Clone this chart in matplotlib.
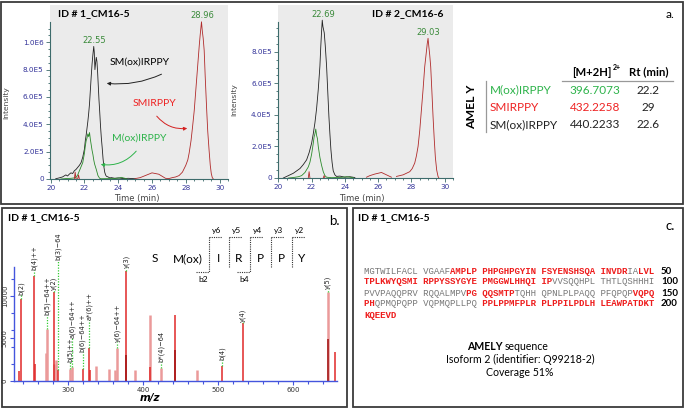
import numpy as np
import matplotlib.pyplot as plt
from matplotlib.patches import Rectangle
from matplotlib.ticker import FuncFormatter

W, H = 685, 409
nan = np.nan

# ---- a. extracted ion chromatograms: time (min), intensity (x1e5) ----
C1_BLACK_T = [20.3, 20.5, 20.7, 20.9, 21.0, 21.1, 21.2, 21.3, 21.4, 21.5, 21.6, 21.7, 21.8, 21.9,
              22.0, 22.05, 22.1, 22.15, 22.2, 22.25, 22.3, 22.35, 22.4, 22.45, 22.5, 22.55, 22.58,
              22.62, 22.66, 22.7, 22.74, 22.78, 22.82, 22.86, 22.9, 22.95, 23.0, 23.05, 23.1, 23.15,
              23.2, 23.25, 23.3, 23.4, 23.5, 23.6, 23.8, 24.0, 24.3, 24.6, 25.0]
C1_BLACK_I = [0.02, 0.08, 0.15, 0.3, 0.22, 0.35, 0.45, 0.4, 0.6, 0.7, 0.85, 1.0, 1.2, 1.6,
              2.2, 2.8, 3.2, 3.7, 4.2, 4.8, 5.5, 6.5, 7.5, 8.4, 9.1, 9.7, 9.3,
              8.0, 8.5, 8.9, 8.6, 7.8, 6.8, 5.8, 5.0, 3.9, 3.0, 2.3, 1.5, 0.9,
              0.5, 0.3, 0.2, 0.15, 0.08, 0.1, 0.05, 0.08, 0.03, 0.05, 0.02]
C1_GREEN_T = [20.6, 20.9, 21.2, 21.4, 21.5, 21.6, 21.7, 21.8, 21.9, 22.0, 22.05, 22.1, 22.15, 22.2,
              22.25, 22.3, 22.35, 22.4, 22.45, 22.5, 22.55, 22.6, 22.7, 22.8, 22.9, 23.0, 23.5,
              24.0, 24.2, 24.3, 24.5]
C1_GREEN_I = [0.0, 0.03, 0.05, 0.08, 0.12, 0.3, 0.6, 0.9, 1.2, 1.9, 2.4, 2.8, 3.0, 3.3,
              3.1, 3.4, 2.9, 2.5, 2.1, 1.8, 1.4, 1.1, 0.7, 0.25, 0.05, 0.02, 0.03,
              0.06, 0.12, 0.08, 0.02]
C1_RED_T = [21.4, 21.45, 21.5, 21.6, 21.65, 21.7, nan, 25.0, 25.3, 25.6, 25.8, 26.0, 26.2, 26.4,
            26.6, 26.8, 27.0, 27.2, 27.4, 27.6, 27.8, 27.92, 28.0, 28.12, 28.2, 28.31, 28.4,
            28.5, 28.6, 28.7, 28.8, 28.85, 28.93, 28.98, 29.03, 29.09, 29.15, 29.24, 29.3,
            29.38, 29.45, 29.51, 29.57, 29.63]
C1_RED_I = [0.0, 0.5, 0.0, 0.0, 0.3, 0.0, nan, 0.03, 0.1, 0.25, 0.35, 0.45, 0.4, 0.35,
            0.2, 0.05, 0.03, 0.1, 0.15, 0.25, 0.5, 0.8, 1.0, 1.4, 1.9, 2.8, 3.8,
            5.0, 6.6, 8.2, 9.8, 10.5, 11.5, 10.8, 10.3, 9.4, 7.5, 5.0, 3.5,
            2.1, 1.0, 0.4, 0.1, 0.0]

C2_BLACK_T = [20.3, 20.5, 20.7, 20.9, 21.1, 21.3, 21.5, 21.7, 21.85, 22.0, 22.1, 22.2, 22.3, 22.4,
              22.5, 22.55, 22.6, 22.64, 22.68, 22.72, 22.76, 22.82, 22.9, 22.97, 23.04, 23.1,
              23.16, 23.23, 23.3, 23.4, 23.5, 23.7, 24.0, 24.3, 24.6]
C2_BLACK_I = [0.0, 0.1, 0.2, 0.3, 0.45, 0.6, 0.85, 1.15, 1.6, 2.2, 2.8, 3.5, 4.4, 5.6,
              7.1, 8.3, 9.3, 10.0, 9.6, 9.4, 9.2, 8.4, 7.1, 5.5, 3.9, 2.8,
              1.8, 1.0, 0.45, 0.2, 0.1, 0.12, 0.05, 0.08, 0.03]
C2_GREEN_T = [20.6, 20.9, 21.2, 21.4, 21.6, 21.8, 21.9, 22.0, 22.1, 22.15, 22.2, 22.25, 22.3, 22.35,
              22.4, 22.5, 22.6, 22.7, 22.8, 22.9, 23.2, 23.8, 24.1, 24.3, 24.5]
C2_GREEN_I = [0.0, 0.03, 0.08, 0.15, 0.35, 0.7, 1.0, 1.5, 2.2, 2.6, 2.8, 3.1, 2.7, 2.5,
              2.0, 1.3, 0.8, 0.4, 0.15, 0.05, 0.02, 0.04, 0.08, 0.05, 0.02]
C2_RED_T = [21.8, 21.85, 21.9, nan, 22.7, 22.75, 22.8, nan, 25.3, 25.5, 25.8, 26.0, 26.2, 26.4,
            26.6, 26.8, nan, 27.1, 27.3, 27.5, 27.7, 27.9, 28.05, 28.2, 28.3, 28.4, 28.5, 28.6,
            28.7, 28.8, 28.9, 28.95, 29.0, 29.05, 29.1, 29.16, 29.23, 29.3, 29.37, 29.44,
            29.52, 29.6, 29.65]
C2_RED_I = [0.0, 0.4, 0.0, nan, 0.0, 0.15, 0.0, nan, 0.05, 0.15, 0.25, 0.3, 0.35, 0.25,
            0.15, 0.05, nan, 0.1, 0.15, 0.2, 0.3, 0.4, 0.6, 0.95, 1.4, 2.0, 3.0, 4.3,
            5.6, 7.05, 8.0, 8.5, 8.85, 8.3, 7.8, 7.05, 5.5, 3.9, 2.5, 1.3,
            0.5, 0.1, 0.0]

PEAKS_1 = [(22.55, 9.7, "22.55"), (28.96, 11.5, "28.96")]
PEAKS_2 = [(22.69, 10.0, "22.69"), (29.03, 8.85, "29.03")]

TABLE_PEPTIDES = ["M(ox)IRPPY", "SMIRPPY", "SM(ox)IRPPY"]
TABLE_MZ = ["396.7073", "432.2258", "440.2233"]
TABLE_RT = ["22.2", "29", "22.6"]

# ---- b. MS/MS spectrum ----
MS_PINK_MZ = [269.8, 271.6, 281.5, 283.5, 302.7, 305.3, 337.0, 354.0, 362.7, 365.3, 389.3, 409.3,
              424.0, 471.6, 645.8]
MS_PINK_INT = [3300, 6100, 2000, 2500, 1400, 1700, 1800, 1400, 1300, 3900, 1300, 7800,
               1500, 1300, 10400]
MS_RED_MZ = [233.8, 237.0, 253.8, 255.0, 280.4, 285.8, 319.0, 327.6, 328.5, 377.3, 409.3, 441.8,
             504.9, 532.4, 655.0]
MS_RED_INT = [1200, 9650, 12270, 2000, 10400, 1300, 1400, 3900, 1300, 12940, 1700, 7700,
              1800, 6800, 3450]
MS_DARK_MZ = [377.3, 441.8, 645.8]
MS_DARK_INT = [3000, 3600, 4900]

ION_LABELS = ["b(2)", "b(4)++", "b(5)\u221264++", "y(2)", "b(3)\u221264", "b(5)++", "a(6)\u221264++",
              "b(6)\u221264++", "a*(6)++", "y(6)\u221264++", "y(3)", "b*(4)\u221264", "b(4)", "y(4)", "y(5)"]
ION_MZ = [237.0, 253.8, 271.6, 280.4, 285.8, 302.7, 305.3, 319.0, 327.6, 365.3, 377.3, 424.0,
          504.9, 532.4, 645.8]
ION_INT = [9650, 12270, 6100, 10400, 1300, 1400, 1700, 1400, 3900, 3900, 12940, 1500,
           1800, 6800, 10400]
ION_LABEL_BASE = [10080, 13020, 7730, 10670, 14200, 2200, 5020, 3380, 7140, 4550, 13260, 2200,
                  2430, 6900, 10790]

PEPTIDE = ["S", "M(ox)", "I", "R", "P", "P", "Y"]

# ---- c. AMELY sequence coverage ----
SEQUENCE = ("MGTWILFACLVGAAFAMPLPPHPGHPGYINFSYENSHSQAINVDRIALVLTPLKWYQSMIRPPYSSYGYEPMGGWLHHQI"
            "IPVVSQQHPLTHTLQSHHHIPVVPAQQPRVRQQALMPVPGQQSMTPTQHHQPNLPLPAQQPFQPQPVQPQPHQPMQPQPP"
            "VQPMQPLLPQPPLPPMFPLRPLPPILPDLHLEAWPATDKTKQEEVD")
COVERED = [(16, 45), (48, 82), (119, 126), (147, 152), (171, 206)]

GREEN_TXT = "#2db34a"
RED_TXT = "#ee2222"
AXIS_C = "#3d6b6b"
TICK_TXT = "#333399"
CAL = "Lato"

fig = plt.figure(figsize=(W / 100, H / 100), dpi=100)
fig.patch.set_facecolor("white")


def px_axes(x0, y0, x1, y1):
    return fig.add_axes([x0 / W, 1 - y1 / H, (x1 - x0) / W, (y1 - y0) / H])


def sci_fmt(v, _):
    if v == 0:
        return "0"
    e = int(np.floor(np.log10(v) + 1e-9))
    return f"{v / 10 ** e:.1f}E{e}"


def chromatogram(ax, traces, peaks, xlim, ylim, yticks, spine_top):
    ax.set_facecolor("#ebebeb")
    for t, i, c in traces:
        ax.plot(t, np.array(i) * 1e5, color=c, lw=0.6)
    for t, i, lab in peaks:
        ax.annotate(lab, (t, i * 1e5), xytext=(0, 1), textcoords="offset points",
                    ha="center", va="bottom", fontsize=6, color="#3a8a3a")
    ax.set_xlim(*xlim)
    ax.set_ylim(*ylim)
    for s in ("top", "right"):
        ax.spines[s].set_visible(False)
    for s in ("left", "bottom"):
        ax.spines[s].set_color(AXIS_C)
        ax.spines[s].set_linewidth(0.8)
    ax.spines["left"].set_bounds(0, spine_top)
    ax.set_xticks(np.arange(20, 31, 2))
    ax.set_xticks(np.arange(20, 30.6, 0.5), minor=True)
    ax.set_yticks(yticks)
    ax.set_yticks(np.arange(0, spine_top, 5e4), minor=True)
    ax.yaxis.set_major_formatter(FuncFormatter(sci_fmt))
    ax.tick_params(which="both", color=AXIS_C, labelcolor=TICK_TXT, labelsize=5.2, width=0.6)
    ax.tick_params(which="major", length=3, pad=1.5)
    ax.tick_params(which="minor", length=1.5)


ax1 = px_axes(50, 5, 228, 179)
chromatogram(ax1, [(C1_BLACK_T, C1_BLACK_I, "#222222"), (C1_GREEN_T, C1_GREEN_I, "#2a8a2a"),
                   (C1_RED_T, C1_RED_I, "#b02a2a")],
             PEAKS_1, (19.96, 30.34), (0, 1.273e6), np.arange(0, 1.01e6, 2e5), 1.15e6)
ax2 = px_axes(278, 5, 453, 178)
chromatogram(ax2, [(C2_BLACK_T, C2_BLACK_I, "#222222"), (C2_GREEN_T, C2_GREEN_I, "#2a8a2a"),
                   (C2_RED_T, C2_RED_I, "#b02a2a")],
             PEAKS_2, (19.98, 30.48), (0, 1.096e6), np.arange(0, 8.1e5, 2e5), 0.99e6)

# spectrum
ax3 = px_axes(14, 267, 337, 381)
ax3.vlines(MS_PINK_MZ, 0, MS_PINK_INT, color="#eb9a9a", lw=1.8)
ax3.vlines(MS_RED_MZ, 0, MS_RED_INT, color="#e02828", lw=1.1)
ax3.vlines(MS_DARK_MZ, 0, MS_DARK_INT, color="#a01010", lw=1.1)
for lab, mz, h, base in zip(ION_LABELS, ION_MZ, ION_INT, ION_LABEL_BASE):
    ax3.plot([mz, mz], [h, base], ls=(0, (1, 1.2)), color="#33cc33", lw=0.9, clip_on=False)
    ax3.text(mz, base, lab, rotation=90, ha="center", va="bottom", fontsize=4.8,
             color="#222222", clip_on=False)
ax3.set_xlim(227.6, 658.2)
ax3.set_ylim(0, 13376)
for s in ("top", "right"):
    ax3.spines[s].set_visible(False)
for s in ("left", "bottom"):
    ax3.spines[s].set_color("#4455dd")
    ax3.spines[s].set_linewidth(1.0)
ax3.set_xticks([300, 400, 500, 600])
ax3.set_xticks(np.arange(240, 660, 20), minor=True)
ax3.set_yticks([0, 5000, 10000])
ax3.set_yticks(np.arange(0, 13400, 2000), minor=True)
ax3.tick_params(which="both", color="#4455dd", labelsize=5, labelcolor="#333333", width=0.8)
ax3.tick_params(which="major", length=3, pad=1.5)
ax3.tick_params(which="minor", length=2.5)
for t in ax3.get_yticklabels():
    t.set_rotation(90)
    t.set_va("center")
ax3.set_facecolor("none")

# overlay in pixel coordinates for frames, tables and annotations
ov = fig.add_axes([0, 0, 1, 1], zorder=-1)
ov.set_xlim(0, W)
ov.set_ylim(H, 0)
ov.axis("off")
ov2 = fig.add_axes([0, 0, 1, 1], zorder=5)
ov2.set_xlim(0, W)
ov2.set_ylim(H, 0)
ov2.axis("off")
ov2.patch.set_alpha(0)

for x0, y0, x1, y1 in [(1.5, 1.5, 683, 204), (2, 207.5, 347.5, 407), (353.5, 207.5, 683, 407)]:
    ov.add_patch(Rectangle((x0, y0), x1 - x0, y1 - y0, fill=False, ec="#3a3a3a", lw=1.3))

# panel a texts
ov2.text(58, 14, "ID # 1_CM16-5", fontsize=7.5, fontweight="bold", family=CAL, va="center")
ov2.text(372, 14, "ID # 2_CM16-6", fontsize=7.5, fontweight="bold", family=CAL, va="center")
for x, cx in [(6, 137), (234, 362)]:
    ov2.text(x, 103 if x < 100 else 100, "Intensity", rotation=90, fontsize=5.4,
             color="#444444", ha="center", va="center")
    ov2.text(cx, 199, "Time (min)", fontsize=6, color="#444444", ha="center", va="center")

ov2.text(140, 62.5, "SM(ox)IRPPY", fontsize=7.5, family=CAL, ha="center", va="center")
ov2.annotate("", xy=(104, 83), xytext=(164, 73),
             arrowprops=dict(arrowstyle="-|>", color="#222222", lw=0.7, mutation_scale=5,
                             connectionstyle="arc3,rad=-0.15"))
ov2.text(154, 103, "SMIRPPY", fontsize=7.5, family=CAL, ha="center", va="center", color=RED_TXT)
ov2.annotate("", xy=(190, 128), xytext=(155, 114),
             arrowprops=dict(arrowstyle="-|>", color="#d42020", lw=0.7, mutation_scale=5,
                             connectionstyle="arc3,rad=0.3"))
ov2.text(139, 138, "M(ox)IRPPY", fontsize=7.5, family=CAL, ha="center", va="center", color=GREEN_TXT)
ov2.annotate("", xy=(98, 164), xytext=(138, 149),
             arrowprops=dict(arrowstyle="-|>", color=GREEN_TXT, lw=0.7, mutation_scale=5,
                             connectionstyle="arc3,rad=-0.3"))

ov2.text(670, 14, "a.", fontsize=8.5, family=CAL, ha="center", va="center")
ov2.text(612, 72, "[M+2H]", fontsize=8.2, fontweight="bold", family=CAL, ha="right", va="center")
ov2.text(613, 68, "2+", fontsize=5, fontweight="bold", family=CAL, ha="left", va="center")
ov2.text(649, 72, "Rt (min)", fontsize=8.2, fontweight="bold", family=CAL, ha="center", va="center")
ov2.plot([562, 673], [80.5, 80.5], color="#999999", lw=0.9)
ov2.plot([486.5, 486.5], [81, 132], color="#999999", lw=0.9)
ov2.text(472, 107, "AMEL Y", rotation=90, fontsize=8.8, fontweight="bold", family=CAL,
         ha="center", va="center")
for k, (pep, mz, rt) in enumerate(zip(TABLE_PEPTIDES, TABLE_MZ, TABLE_RT)):
    y = 90 + k * 17.2
    col = [GREEN_TXT, RED_TXT, "#222222"][k]
    ov2.text(490, y, pep, fontsize=8.5, family=CAL, color=col, va="center")
    ov2.text(595, y, mz, fontsize=8.5, family=CAL, color=col, va="center", ha="center")
    ov2.text(648, y, rt, fontsize=8.5, family=CAL, color="#222222", va="center", ha="center")

# panel b texts
ov2.text(8, 218, "ID # 1_CM16-5", fontsize=7.5, fontweight="bold", family=CAL, va="center")
ov2.text(334, 221, "b.", fontsize=9.5, family=CAL, ha="center", va="center")
ov2.text(150, 398, "m/z", fontsize=7.5, fontweight="bold", style="italic", ha="center", va="center")
for x, aa in zip([155, 188, 219, 239, 260, 281, 302], PEPTIDE):
    ov2.text(x, 259, aa, fontsize=8.5, family=CAL, ha="center", va="center")
dot = dict(color="#333333", lw=0.8, ls=(0, (1, 1)))
for k, vx in enumerate([209, 229, 250, 271, 292]):
    has_b = vx in (209, 250)
    ov2.plot([vx, vx], [237, 272 if has_b else 267], **dot)
    ov2.plot([vx, vx + 13], [237, 237], **dot)
    ov2.text(vx + 8, 230, f"y{6 - k}", fontsize=6, family=CAL, ha="center", va="center")
    if has_b:
        ov2.plot([vx - 13, vx], [272, 272], **dot)
        ov2.text(vx - 6, 280, "b2" if vx == 209 else "b4", fontsize=6, family=CAL,
                 ha="center", va="center")

# panel c texts
ov2.text(358, 218, "ID # 1_CM16-5", fontsize=7.5, fontweight="bold", family=CAL, va="center")
ov2.text(670, 226, "c.", fontsize=9.5, family=CAL, ha="center", va="center")
covered = np.zeros(len(SEQUENCE), dtype=bool)
for a, b in COVERED:
    covered[a - 1:b] = True
for row in range(0, len(SEQUENCE), 50):
    gray, red = "", ""
    for i in range(row, min(row + 50, len(SEQUENCE))):
        if i > row and (i - row) % 10 == 0:
            gray += " "
            red += " "
        gray += " " if covered[i] else SEQUENCE[i]
        red += SEQUENCE[i] if covered[i] else " "
    y = 271 + (row // 50) * 11
    ov2.text(364, y, gray, family="Liberation Mono", fontsize=6.5, color="#777777", va="center")
    ov2.text(364, y, red, family="Liberation Mono", fontsize=6.5, color="#ee1c1c",
             fontweight="bold", va="center")
    if row + 50 <= len(SEQUENCE):
        ov2.text(661, y, str(row + 50), family=CAL, fontsize=7, fontweight="bold", va="center")

ov2.text(503, 346, "AMELY", family=CAL, fontsize=7.6, fontweight="bold", ha="right", va="center")
ov2.text(505, 346, "sequence", family=CAL, fontsize=7.6, ha="left", va="center")
ov2.text(520, 359.5, "Isoform 2 (identifier: Q99218-2)", family=CAL, fontsize=7.6,
         ha="center", va="center")
ov2.text(520, 373, "Coverage 51%", family=CAL, fontsize=7.6, ha="center", va="center")

fig.savefig("out.png", dpi=100)
